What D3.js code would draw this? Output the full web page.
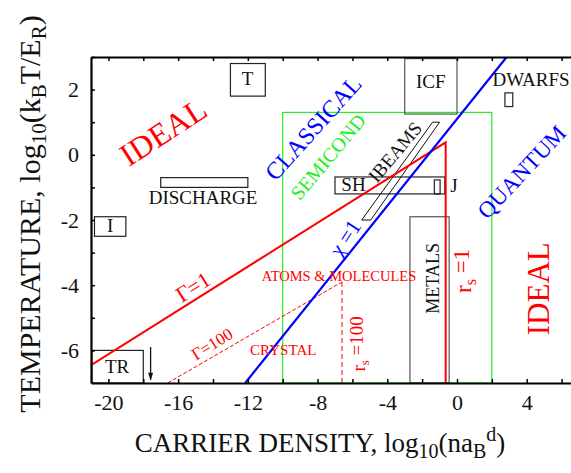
<!DOCTYPE html>
<html>
<head>
<meta charset="utf-8">
<script src="https://cdn.jsdelivr.net/npm/d3@7"></script>
<style>
  body { margin: 0; background: #fff; }
  svg { display: block; font-family: "Liberation Serif", "Times New Roman", serif; }
</style>
</head>
<body>
<div class="container"></div>
<script>
// tick labels
var xTickLabels = [-20, -16, -12, -8, -4, 0, 4];
var yTickLabels = [-6, -4, -2, 0, 2];

// boundary lines, [log n, log T]
var gamma1 = [[-21, -6.45], [-0.65, 0.38], [-0.65, -7]];
var gamma100 = [[-16.6, -7], [-6.6, -3.9]];
var rs100 = [[-6.6, -3.9], [-6.6, -7]];
var chi1 = [[-12.15, -7], [2.85, 3]];
var semicond = [[-10, -7], [2, 1.3]];
var ibeams = [[-5.47, -2], [-4.95, -2], [-1.0, 1.0], [-1.4, 1.0]];

// regions: name, x0, x1, y0, y1
var boxNames = ["T", "ICF", "DWARFS", "DISCHARGE", "I", "TR", "SH", "J", "METALS"];
var boxX = [[-13, -11], [-3, 0], [2.75, 3.2], [-17, -12], [-20.8, -19], [-20.95, -18], [-7, -0.7], [-1.3, -0.97], [-2.7, -0.45]];
var boxY = [[1.8, 2.8], [1.25, 2.95], [1.48, 1.9], [-1.0, -0.7], [-2.5, -1.9], [-7, -6], [-1.2, -0.68], [-1.2, -0.77], [-7, -1.9]];

// flat labels at baseline
var flatLabels = [
  ["T", -12.02, 2.15], ["ICF", -1.51, 2.05], ["DWARFS", 4.25, 2.1],
  ["DISCHARGE", -14.57, -1.5], ["I", -19.9, -2.37], ["TR", -19.5, -6.69],
  ["SH", -5.94, -1.12], ["J", -0.17, -1.13]
];

var arrowTR = [[-17.58, -5.9], [-17.58, -6.9]];

var width = 571, height = 473;

var x = d3.scaleLinear().domain([-21, 7]).range([91, 579]);
var y = d3.scaleLinear().domain([-7, 3]).range([383, 57]);

var svg = d3.select('.container').append('svg')
    .attr('width', width).attr('height', height);

svg.append('defs').append('clipPath').attr('id', 'plot')
  .append('rect').attr('x', 91).attr('y', 57).attr('width', 500).attr('height', 326);

var plot = svg.append('g').attr('clip-path', 'url(#plot)');
var line = d3.line().x(d => x(d[0])).y(d => y(d[1]));

// semiconductor window
plot.append('rect')
    .attr('x', x(semicond[0][0])).attr('y', y(semicond[1][1]))
    .attr('width', x(semicond[1][0]) - x(semicond[0][0]))
    .attr('height', y(semicond[0][1]) - y(semicond[1][1]))
    .attr('fill', 'none').attr('stroke', '#22ee22').attr('stroke-width', 1.2);

// boxes
boxNames.forEach(function(n, i) {
    plot.append('rect')
        .attr('x', x(boxX[i][0])).attr('y', y(boxY[i][1]))
        .attr('width', x(boxX[i][1]) - x(boxX[i][0]))
        .attr('height', y(boxY[i][0]) - y(boxY[i][1]))
        .attr('fill', 'none')
        .attr('stroke', n == "METALS" || n == "ICF" ? '#555' : '#222')
        .attr('stroke-width', 1.2);
});

plot.append('path').attr('d', line(ibeams) + 'Z')
    .attr('fill', 'none').attr('stroke', '#111').attr('stroke-width', 1);

plot.append('path').attr('d', line(gamma100))
    .attr('fill', 'none').attr('stroke', 'red').attr('stroke-width', 1)
    .attr('stroke-dasharray', '4,2');
plot.append('path').attr('d', line(rs100))
    .attr('fill', 'none').attr('stroke', 'red').attr('stroke-width', 1)
    .attr('stroke-dasharray', '5,3');

plot.append('path').attr('d', line(gamma1))
    .attr('fill', 'none').attr('stroke', 'red').attr('stroke-width', 2);
plot.append('path').attr('d', line(chi1))
    .attr('fill', 'none').attr('stroke', '#0000ff').attr('stroke-width', 2.2);

// arrow under TR
plot.append('path').attr('d', line(arrowTR))
    .attr('stroke', '#111').attr('stroke-width', 1.3);
var ax = x(arrowTR[1][0]), ay = y(arrowTR[1][1]);
plot.append('path')
    .attr('d', 'M' + (ax - 2.5) + ',' + (ay - 7) + 'L' + ax + ',' + (ay + 1) + 'L' + (ax + 2.5) + ',' + (ay - 7) + 'Z')
    .attr('fill', '#111');

// flat labels
flatLabels.forEach(function(l) {
    svg.append('text').attr('x', x(l[1])).attr('y', y(l[2]))
        .attr('text-anchor', 'middle').attr('font-size', 19).attr('fill', '#111')
        .text(l[0]);
});

function rotLabel(txt, lx, ly, angle, size, color) {
    return svg.append('text')
        .attr('transform', 'translate(' + x(lx) + ',' + y(ly) + ') rotate(' + angle + ')')
        .attr('text-anchor', 'middle').attr('dy', '0.35em')
        .attr('font-size', size).attr('fill', color)
        .text(txt);
}

rotLabel("IDEAL", -16.87, 0.71, -33, 32, 'red');
rotLabel("IDEAL", 4.65, -4.11, -90, 31, 'red');
rotLabel("CLASSICAL", -8.26, 0.83, -48, 24, '#0000ff');
rotLabel("SEMICOND", -7.4, -0.06, -50, 20, '#22ee22');
rotLabel("QUANTUM", 3.7, -0.52, -47, 23, '#0000ff');
rotLabel("\u03c7 =1", -6.43, -2.55, -57, 22, '#0000ff');
rotLabel("IBEAMS", -3.56, 0.09, -50, 19, '#111');
rotLabel("METALS", -1.38, -3.79, -90, 18, '#111');
rotLabel("\u0393=1", -15.15, -4.05, -32, 22, 'red');
rotLabel("\u0393=100", -14.06, -5.8, -32, 17, 'red');

var rs1 = rotLabel("", 0.34, -3.56, -90, 23, 'red');
rs1.append('tspan').text('r');
rs1.append('tspan').attr('font-size', 16).attr('dy', '0.3em').text('s');
rs1.append('tspan').attr('dy', '-0.3em').text(' =1');
var rs2 = rotLabel("", -5.68, -5.8, -90, 19, 'red');
rs2.append('tspan').text('r');
rs2.append('tspan').attr('font-size', 13).attr('dy', '0.3em').text('s');
rs2.append('tspan').attr('dy', '-0.3em').text(' =100');

svg.append('text').attr('x', x(-6.77)).attr('y', y(-3.87))
    .attr('text-anchor', 'middle').attr('font-size', 14.5).attr('fill', 'red')
    .text("ATOMS & MOLECULES");
svg.append('text').attr('x', x(-9.97)).attr('y', y(-6.13))
    .attr('text-anchor', 'middle').attr('font-size', 15).attr('fill', 'red')
    .text("CRYSTAL");

// axes, ticks pointing inward
var xAxis = d3.axisBottom(x)
    .tickValues(d3.range(-20, 7, 2))
    .tickFormat(d => xTickLabels.includes(d) ? String(d) : "")
    .tickSizeInner(-4).tickSizeOuter(0).tickPadding(11);
var xTop = d3.axisTop(x)
    .tickValues(d3.range(-20, 7, 2)).tickFormat("")
    .tickSizeInner(-4).tickSizeOuter(0);
var yAxis = d3.axisLeft(y)
    .tickValues(d3.range(-6, 3.5, 1))
    .tickFormat(d => yTickLabels.includes(d) ? String(d) : "")
    .tickSizeInner(-4).tickSizeOuter(0).tickPadding(12);

[svg.append('g').attr('transform', 'translate(0,383)').call(xAxis),
 svg.append('g').attr('transform', 'translate(0,57)').call(xTop),
 svg.append('g').attr('transform', 'translate(91,0)').call(yAxis)
].forEach(function(g) {
    g.select('.domain').attr('stroke', '#000').attr('stroke-width', 2.2);
    g.selectAll('.tick line').attr('stroke', '#000').attr('stroke-width', 1.5);
    g.selectAll('.tick text').attr('font-size', 22).attr('fill', '#111')
        .attr('font-family', '"Liberation Serif", serif');
});

// axis titles
var xt = svg.append('text').attr('x', 320).attr('y', 452)
    .attr('text-anchor', 'middle').attr('font-size', 27).attr('fill', '#111');
xt.append('tspan').text('CARRIER DENSITY, log');
xt.append('tspan').attr('font-size', 20).attr('dy', 6).text('10');
xt.append('tspan').attr('dy', -6).text('(na');
xt.append('tspan').attr('font-size', 20).attr('dy', 6).text('B');
xt.append('tspan').attr('font-size', 20).attr('dy', -17).text('d');
xt.append('tspan').attr('dy', 11).text(')');

var yt = svg.append('text').attr('transform', 'translate(40,214) rotate(-90)')
    .attr('text-anchor', 'middle').attr('font-size', 30).attr('fill', '#111');
yt.append('tspan').text('TEMPERATURE, log');
yt.append('tspan').attr('font-size', 21).attr('dy', 6).text('10');
yt.append('tspan').attr('dy', -6).text('(k');
yt.append('tspan').attr('font-size', 21).attr('dy', 6).text('B');
yt.append('tspan').attr('dy', -6).text('T/E');
yt.append('tspan').attr('font-size', 21).attr('dy', 6).text('R');
yt.append('tspan').attr('dy', -6).text(')');
</script>
</body>
</html>
